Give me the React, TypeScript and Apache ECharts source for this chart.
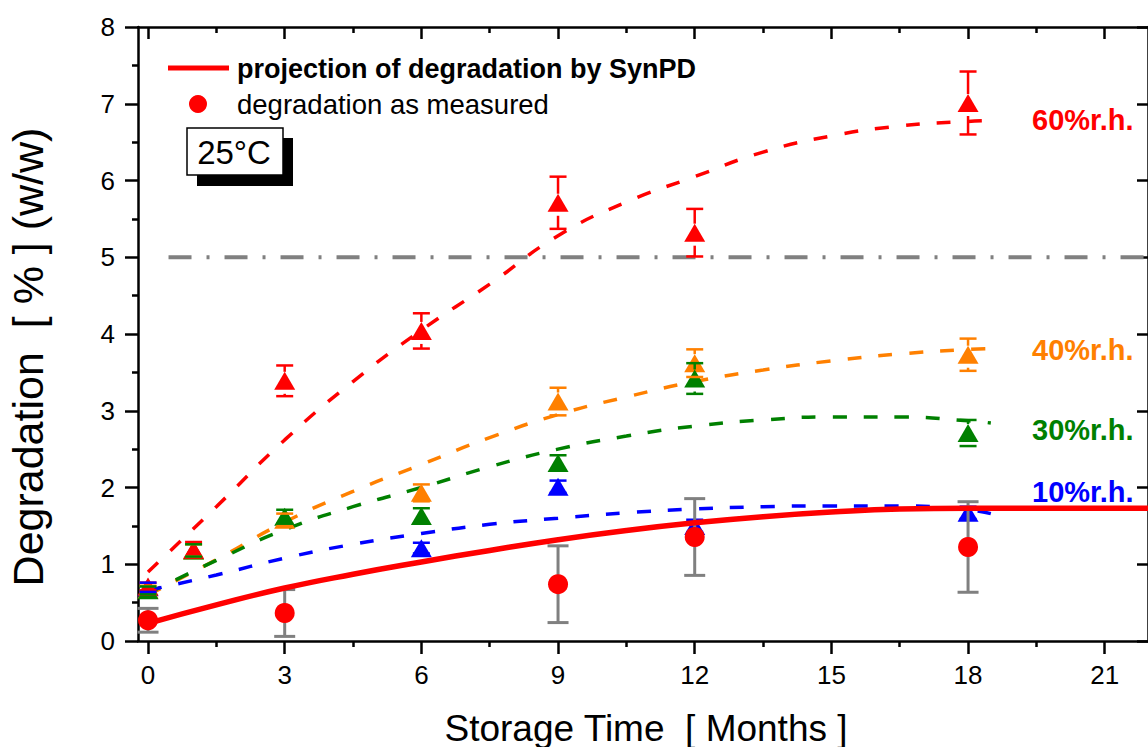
import React, { useEffect, useRef } from "react";
import * as echarts from "echarts";

const FONT = "'Liberation Sans', Arial, Helvetica, sans-serif";

// axis ranges and ticks (months / % w/w)
const X_MIN = -0.22;
const X_MAX = 21.95;
const X_MAJOR = [0, 3, 6, 9, 12, 15, 18, 21];
const X_MINOR = [1.5, 4.5, 7.5, 10.5, 13.5, 16.5, 19.5];
const Y_MIN = 0;
const Y_MAX = 8;
const LIMIT = 5;

// stressed samples per relative humidity: time, degradation, error
const rh60Time = [0, 1, 3, 6, 9, 12, 18];
const rh60Value = [0.71, 1.19, 3.39, 4.04, 5.71, 5.32, 7.01];
const rh60Err = [0.05, 0.1, 0.2, 0.23, 0.34, 0.31, 0.41];

const rh40Time = [0, 1, 3, 6, 9, 12, 18];
const rh40Value = [0.67, 1.18, 1.58, 1.93, 3.12, 3.62, 3.73];
const rh40Err = [0.05, 0.08, 0.08, 0.11, 0.18, 0.18, 0.21];

const rh30Time = [0, 1, 3, 6, 9, 12, 18];
const rh30Value = [0.66, 1.18, 1.62, 1.63, 2.32, 3.42, 2.71];
const rh30Err = [0.05, 0.08, 0.09, 0.1, 0.1, 0.2, 0.17];

const rh10Time = [0, 6, 9, 12, 18];
const rh10Value = [0.7, 1.21, 2.01, 1.5, 1.67];
const rh10Err = [0.06, 0.07, 0.08, 0.08, 0.08];

// fitted degradation curves per humidity
const fitTime = [0, 1.5, 3, 4.5, 6, 7.5, 9, 10.5, 12, 13.5, 15, 16.5, 18, 18.5];
const fit60Value = [0.9, 1.75, 2.62, 3.38, 4.05, 4.65, 5.28, 5.72, 6.05, 6.37, 6.58, 6.71, 6.77, 6.78];
const fit40Value = [0.6, 1.06, 1.55, 1.95, 2.3, 2.65, 2.95, 3.18, 3.38, 3.53, 3.65, 3.74, 3.8, 3.81];
const fit30Value = [0.62, 1.05, 1.45, 1.75, 2.0, 2.27, 2.5, 2.67, 2.8, 2.88, 2.92, 2.92, 2.87, 2.84];
const fit10Value = [0.66, 0.86, 1.08, 1.26, 1.4, 1.52, 1.6, 1.67, 1.72, 1.75, 1.76, 1.76, 1.71, 1.66];

// measured degradation at 25 °C and the SynPD projection
const measTime = [0, 3, 9, 12, 18];
const measValue = [0.27, 0.365, 0.74, 1.355, 1.225];
const measErr = [0.155, 0.305, 0.5, 0.5, 0.59];

const projTime = [0, 1.5, 3, 4.5, 6, 7.5, 9, 10.5, 12, 13.5, 15, 16.5, 18, 19.5, 21, 22.5];
const projValue = [0.23, 0.47, 0.69, 0.87, 1.03, 1.18, 1.32, 1.44, 1.54, 1.62, 1.68, 1.72, 1.73, 1.73, 1.73, 1.73];

const RED = "#ff0000";
const ORANGE = "#ff8000";
const GREEN = "#008000";
const BLUE = "#0000ff";
const GRAY = "#808080";

const pairs = (xs: number[], ys: number[]) => xs.map((x, i) => [x, ys[i]]);

function fitLine(name: string, xs: number[], ys: number[], color: string) {
  return {
    type: "line",
    name,
    z: 2,
    data: pairs(xs, ys),
    smooth: 0.5,
    showSymbol: false,
    symbol: "none",
    silent: true,
    lineStyle: { color, width: 3.5, type: [14, 17] },
  };
}

function triangles(name: string, xs: number[], ys: number[], color: string) {
  return {
    type: "scatter",
    name,
    z: 3,
    data: pairs(xs, ys),
    symbol: "triangle",
    symbolSize: [21, 18],
    itemStyle: { color, opacity: 1 },
    silent: true,
  };
}

function errorBars(
  name: string,
  xs: number[],
  ys: number[],
  es: number[],
  color: string,
  cap: number,
  gapTop: number,
  gapBottom: number,
  width: number,
  z: number
) {
  return {
    type: "custom",
    name,
    z,
    silent: true,
    data: xs.map((x, i) => [x, ys[i], es[i]]),
    encode: { x: 0, y: 1 },
    renderItem: (_params: any, api: any) => {
      const x = api.value(0);
      const y = api.value(1);
      const e = api.value(2);
      const [cx, cy] = api.coord([x, y]);
      const top = api.coord([x, y + e])[1];
      const bot = api.coord([x, y - e])[1];
      const style = { stroke: color, lineWidth: width };
      const children: any[] = [
        { type: "line", shape: { x1: cx - cap / 2, y1: top, x2: cx + cap / 2, y2: top }, style },
        { type: "line", shape: { x1: cx - cap / 2, y1: bot, x2: cx + cap / 2, y2: bot }, style },
      ];
      if (cy - top > gapTop) {
        children.push({ type: "line", shape: { x1: cx, y1: top, x2: cx, y2: cy - gapTop }, style });
      }
      if (bot - cy > gapBottom) {
        children.push({ type: "line", shape: { x1: cx, y1: cy + gapBottom, x2: cx, y2: bot }, style });
      }
      return { type: "group", children };
    },
  };
}

const axisLineStyle = { color: "#000", width: 2.5 };

function xAxisDef(position: string, values: number[], length: number, inside: boolean, line: boolean, labels: boolean) {
  return {
    type: "value",
    position,
    min: X_MIN,
    max: X_MAX,
    axisLine: { show: line, onZero: false, lineStyle: axisLineStyle },
    axisTick: { show: true, inside, length, customValues: values, lineStyle: axisLineStyle },
    axisLabel: labels
      ? { show: true, customValues: values, fontSize: 26, color: "#000", fontFamily: FONT, margin: 21 }
      : { show: false },
    splitLine: { show: false },
  };
}

const rhLabel = (text: string, y: number, fill: string) => ({
  type: "text",
  x: 1032,
  y,
  style: { text, fontSize: 29, fontWeight: "bold", fontFamily: FONT, fill, verticalAlign: "middle" },
});

const option = {
  animation: false,
  backgroundColor: "#fff",
  grid: { left: 138, top: 27, width: (X_MAX - X_MIN) * 45.71, height: 614, containLabel: false },
  xAxis: [
    xAxisDef("bottom", X_MAJOR, 13, false, true, true),
    xAxisDef("bottom", X_MINOR, 6, false, false, false),
    xAxisDef("top", X_MAJOR, 12, true, true, false),
    xAxisDef("top", X_MINOR, 6, true, false, false),
  ],
  yAxis: [
    {
      type: "value",
      position: "left",
      min: Y_MIN,
      max: Y_MAX,
      interval: 1,
      axisLine: { show: true, onZero: false, lineStyle: axisLineStyle },
      axisTick: { show: true, length: 13, lineStyle: axisLineStyle },
      minorTick: { show: true, splitNumber: 2, length: 6, lineStyle: axisLineStyle },
      axisLabel: { fontSize: 26, color: "#000", fontFamily: FONT, margin: 23 },
      splitLine: { show: false },
      minorSplitLine: { show: false },
    },
    {
      type: "value",
      position: "right",
      min: Y_MIN,
      max: Y_MAX,
      interval: 1,
      axisLine: { show: true, onZero: false, lineStyle: axisLineStyle },
      axisTick: { show: true, inside: true, length: 11, lineStyle: axisLineStyle },
      axisLabel: { show: false },
      splitLine: { show: false },
    },
  ],
  series: [
    {
      type: "line",
      name: "limit",
      z: 2,
      data: [
        [0.45, LIMIT],
        [X_MAX, LIMIT],
      ],
      symbol: "none",
      silent: true,
      lineStyle: { color: GRAY, width: 4, type: [23, 15, 3, 15] },
    },
    fitLine("fit 60%r.h.", fitTime, fit60Value, RED),
    fitLine("fit 40%r.h.", fitTime, fit40Value, ORANGE),
    fitLine("fit 30%r.h.", fitTime, fit30Value, GREEN),
    fitLine("fit 10%r.h.", fitTime, fit10Value, BLUE),
    triangles("10%r.h.", rh10Time, rh10Value, BLUE),
    triangles("40%r.h.", rh40Time, rh40Value, ORANGE),
    triangles("30%r.h.", rh30Time, rh30Value, GREEN),
    triangles("60%r.h.", rh60Time, rh60Value, RED),
    errorBars("err 60", rh60Time, rh60Value, rh60Err, RED, 17, 9, 13, 2.5, 4),
    errorBars("err 40", rh40Time, rh40Value, rh40Err, ORANGE, 17, 9, 13, 2.5, 4),
    errorBars("err 30", rh30Time, rh30Value, rh30Err, GREEN, 17, 9, 13, 2.5, 4),
    errorBars("err 10", rh10Time, rh10Value, rh10Err, BLUE, 17, 9, 13, 2.5, 4),
    errorBars("err measured", measTime, measValue, measErr, GRAY, 21, 0, 0, 3, 5),
    {
      type: "line",
      name: "projection of degradation by SynPD",
      z: 5,
      data: pairs(projTime, projValue),
      smooth: 0.5,
      symbol: "none",
      silent: true,
      lineStyle: { color: RED, width: 5.5 },
    },
    {
      type: "scatter",
      name: "degradation as measured",
      z: 6,
      data: pairs(measTime, measValue),
      symbol: "circle",
      symbolSize: 20,
      itemStyle: { color: RED, opacity: 1 },
      silent: true,
    },
  ],
  graphic: [
    // legend
    { type: "line", shape: { x1: 168, y1: 68, x2: 229, y2: 68 }, style: { stroke: RED, lineWidth: 5 } },
    {
      type: "text",
      x: 237,
      y: 69,
      style: {
        text: "projection of degradation by SynPD",
        fontSize: 27,
        fontWeight: "bold",
        fontFamily: FONT,
        fill: "#000",
        verticalAlign: "middle",
      },
    },
    { type: "circle", shape: { cx: 198, cy: 104, r: 9 }, style: { fill: RED } },
    {
      type: "text",
      x: 237,
      y: 104,
      style: { text: "degradation as measured", fontSize: 27.5, fontFamily: FONT, fill: "#000", verticalAlign: "middle" },
    },
    // temperature box with drop shadow
    { type: "rect", shape: { x: 197, y: 138, width: 96, height: 48 }, style: { fill: "#000" } },
    { type: "rect", shape: { x: 187, y: 128, width: 96, height: 47 }, style: { fill: "#fff", stroke: "#000", lineWidth: 1.5 } },
    {
      type: "text",
      x: 234,
      y: 152,
      style: { text: "25°C", fontSize: 33, fontFamily: FONT, fill: "#000", align: "center", verticalAlign: "middle" },
    },
    // humidity labels
    rhLabel("60%r.h.", 120, RED),
    rhLabel("40%r.h.", 350, ORANGE),
    rhLabel("30%r.h.", 430, GREEN),
    rhLabel("10%r.h.", 492, BLUE),
    // axis titles
    {
      type: "text",
      x: 646,
      y: 728,
      style: { text: "Storage Time  [ Months ]", fontSize: 37, fontFamily: FONT, fill: "#000", align: "center", verticalAlign: "middle" },
    },
    {
      type: "text",
      x: 28,
      y: 357,
      rotation: Math.PI / 2,
      style: { text: "Degradation  [ % ] (w/w)", fontSize: 43, fontFamily: FONT, fill: "#000", align: "center", verticalAlign: "middle" },
    },
  ],
};

export default function App() {
  const ref = useRef<HTMLDivElement>(null);
  useEffect(() => {
    if (!ref.current) return;
    const chart = echarts.init(ref.current, null, { renderer: "svg" });
    chart.setOption(option as any);
    return () => chart.dispose();
  }, []);
  return (
    <div
      ref={ref}
      style={{ position: "absolute", left: 0, top: 0, width: 1148, height: 747, background: "#fff", overflow: "hidden" }}
    />
  );
}
